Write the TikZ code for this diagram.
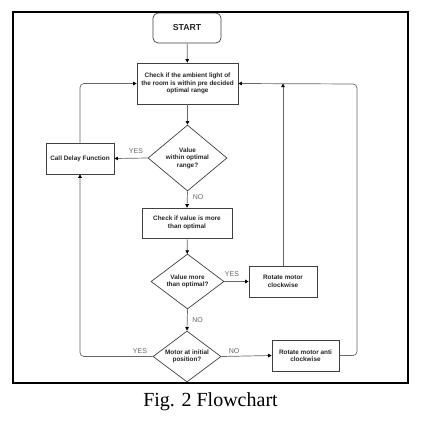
\documentclass[tikz,border=0pt]{standalone}
\usepackage{fontspec}
\setmainfont{Liberation Serif}
\newfontfamily\arialf{Liberation Sans}
\usetikzlibrary{shapes.geometric,arrows.meta}
\begin{document}
\begin{tikzpicture}[x=1pt,y=-1pt,
  box/.style={draw=black!75,line width=0.7pt,fill=white,inner sep=0pt,align=center,
    font=\arialf\bfseries\fontsize{6.4}{7.4}\selectfont,text=black!85},
  dec/.style={box,diamond},
  lab/.style={font=\arialf\fontsize{7}{8}\selectfont,text=black!60,inner sep=0pt},
  conn/.style={draw=black!60,line width=0.7pt,-{Triangle[length=3.5pt,width=3.5pt,color=black]}},
  plain/.style={draw=black!60,line width=0.7pt}]
\useasboundingbox (0,0) rectangle (426,421);
\fill[white] (0,0) rectangle (426,421);
% nodes
\node[box,rounded corners=5pt,minimum width=68pt,minimum height=30pt,font=\arialf\bfseries\fontsize{8.7}{10}\selectfont] (start) at (187,28) {START};
\node[box,minimum width=101pt,minimum height=41pt] (b1) at (187.5,83.5) {Check if the ambient light of\\the room is within pre decided\\optimal range};
\node[dec,minimum width=79pt,minimum height=66pt,aspect=1.2] (d1) at (187.5,158) {Value\\within optimal\\range?};
\node[box,minimum width=68pt,minimum height=31pt] (cd) at (80,158.5) {Call Delay Function};
\node[box,minimum width=90pt,minimum height=30pt] (b2) at (187,223) {Check if value is more\\than optimal};
\node[dec,minimum width=73pt,minimum height=55pt,aspect=1.33] (d2) at (187.5,281.5) {Value more\\than optimal?};
\node[box,minimum width=68pt,minimum height=31pt] (rc) at (283,281.5) {Rotate motor\\clockwise};
\node[dec,minimum width=68pt,minimum height=51pt,aspect=1.33] (d3) at (187,356.5) {Motor at initial\\position?};
\node[box,minimum width=67pt,minimum height=31pt] (ra) at (305.5,355.5) {Rotate motor anti\\clockwise};
\coordinate (rloopb) at (357,355.5);
\coordinate (rloopt) at (357,84);
% labels
\node[lab] (l1) at (136,151) {YES};
\node[lab] (l2) at (198,197) {NO};
\node[lab] (l3) at (232,274) {YES};
\node[lab] (l4) at (197.5,320) {NO};
\node[lab] (l5) at (140,351) {YES};
\node[lab] (l6) at (234,351) {NO};
% connectors
\draw[conn] (start) -- (b1);
\draw[conn] (b1) -- (d1);
\draw[conn] (d1.west) -- (cd.east);
\draw[conn] (d1.south) -- (b2.north);
\draw[conn] (b2) -- (d2);
\draw[conn] (d2.east) -- (rc.west);
\draw[conn] (d2.south) -- (d3.north);
\draw[conn] (d3.east) -- (ra.west);
\draw[conn,rounded corners=4pt] (d3.west) -| (cd.south);
\draw[conn,rounded corners=4pt] (cd.north) |- (b1.west);
\draw[conn] (rc.north) -- (rc.north |- b1.east);
\draw[conn,rounded corners=4pt] (ra.east) -- (rloopb) -- (rloopt) -- (b1.east);
% frame
\draw[line width=2pt] (12.5,12) rectangle (407.5,383);
\node[font=\fontsize{20}{22}\selectfont,inner sep=0pt] (cap) at (210.5,402) {Fig. 2 Flowchart};
\end{tikzpicture}
\end{document}
